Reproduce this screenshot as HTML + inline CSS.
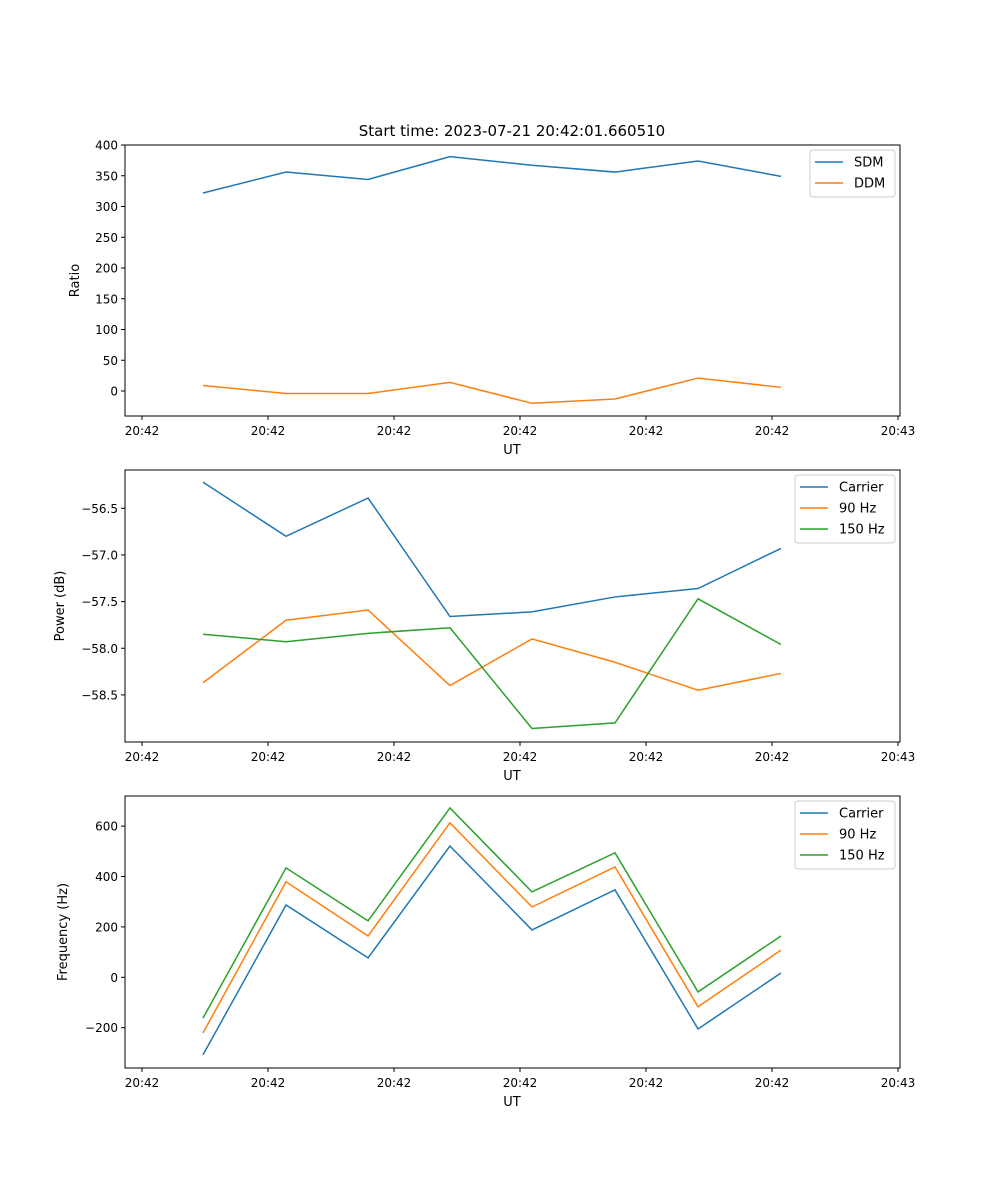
<!DOCTYPE html>
<html><head><meta charset="utf-8"><style>
body{margin:0;background:#fff}
svg{display:block;font-family:"DejaVu Sans","Liberation Sans",sans-serif}
</style></head><body>
<svg id="fig" width="1000" height="1200" viewBox="0 0 1000 1200" xmlns="http://www.w3.org/2000/svg">
<rect width="1000" height="1200" fill="#fff"/>
<text x="512" y="136" font-size="15" text-anchor="middle">Start time: 2023-07-21 20:42:01.660510</text>
</svg>
<script>
const xIdx = [0.484, 1.143, 1.794, 2.444, 3.095, 3.754, 4.413, 5.071];
const xTickVals = [0,1,2,3,4,5,6];
const xTickLabels = ["20:42","20:42","20:42","20:42","20:42","20:42","20:43"];
const sdm = [322,356,344,381,367,356,374,349];
const ddm = [9,-4,-4,14,-20,-13,21,6];
const ratioTicks = [0,50,100,150,200,250,300,350,400];
const powCarrier = [-56.22,-56.80,-56.39,-57.66,-57.61,-57.45,-57.36,-56.93];
const pow90 = [-58.37,-57.70,-57.59,-58.40,-57.90,-58.15,-58.45,-58.27];
const pow150 = [-57.85,-57.93,-57.84,-57.78,-58.86,-58.80,-57.47,-57.96];
const powTicks = [-56.5,-57.0,-57.5,-58.0,-58.5];
const frqCarrier = [-308,287,77,521,188,347,-205,17];
const frq90 = [-221,379,164,613,279,438,-117,108];
const frq150 = [-162,434,224,672,339,494,-58,164];
const frqTicks = [-200,0,200,400,600];
const C = ["#1f77b4","#ff7f0e","#2ca02c"];
const svg = document.getElementById('fig');
const NS = "http://www.w3.org/2000/svg";
function mk(tag, attrs, parent){const e=document.createElementNS(NS,tag);for(const k in attrs)e.setAttribute(k,attrs[k]);(parent||svg).appendChild(e);return e;}
const L=125,R=900;
const xs = v => 142 + v*126;
function panel(name, top, bot, yMap, ticks, fmt, ylabel, series, names, legend){
  const g = mk('g',{});
  
  
  series.forEach((s,i)=>{
    const p = mk('polyline',{points:s.map((v,j)=>xs(xIdx[j])+','+yMap(v)).join(' '),fill:'none',stroke:C[i],'stroke-width':1.5},g);
    
    
  });
  mk('rect',{x:L,y:top,width:R-L,height:bot-top,fill:'none',stroke:'#000','stroke-width':1},g);
  xTickVals.forEach((v,i)=>{
    mk('line',{x1:xs(v),x2:xs(v),y1:bot,y2:bot+4,stroke:'#000'},g);
    const t = mk('text',{x:xs(v),y:bot+19,'font-size':12,'text-anchor':'middle'},g);t.textContent=xTickLabels[i];
    
    
  });
  ticks.forEach(v=>{
    const y=yMap(v);
    mk('line',{x1:L-4,x2:L,y1:y,y2:y,stroke:'#000'},g);
    const t=mk('text',{x:L-7,y:y+4.5,'font-size':12,'text-anchor':'end'},g);t.textContent=fmt(v);
    
    
  });
  const xl=mk('text',{x:512,y:bot+38,'font-size':13,'text-anchor':'middle'},g);xl.textContent='UT';
  
  
  const cy=(top+bot)/2;
  const yl=mk('text',{x:0,y:0,'font-size':13,'text-anchor':'middle',transform:`translate(${legend.yl},${cy}) rotate(-90)`},g);yl.textContent=ylabel;
  
  
  const lg=mk('g',{},g);
  
  
  mk('rect',{x:legend.x,y:top+5,width:R-5-legend.x,height:names.length*21+5,rx:3,fill:'#fff','fill-opacity':0.8,stroke:'#ccc'},lg);
  names.forEach((n,i)=>{
    const y=top+17+i*21;
    mk('line',{x1:legend.x+5,x2:legend.x+33,y1:y,y2:y,stroke:C[i],'stroke-width':1.5},lg);
    const t=mk('text',{x:legend.x+44,y:y+4.5,'font-size':13},lg);t.textContent=n;
    
    
  });
}
panel('ratio-panel',145,416,v=>391-v*0.615,ratioTicks,v=>String(v),'Ratio',[sdm,ddm],['SDM','DDM'],{x:810,yl:79});
panel('power-panel',470,742,v=>508.3-(v+56.5)*93.3,powTicks,v=>v.toFixed(1).replace('-','\u2212'),'Power (dB)',[powCarrier,pow90,pow150],['Carrier','90 Hz','150 Hz'],{x:795,yl:64});
panel('frequency-panel',796,1068,v=>977.3-v*0.252,frqTicks,v=>String(v).replace('-','\u2212'),'Frequency (Hz)',[frqCarrier,frq90,frq150],['Carrier','90 Hz','150 Hz'],{x:795,yl:67});
</script>
</body></html>
